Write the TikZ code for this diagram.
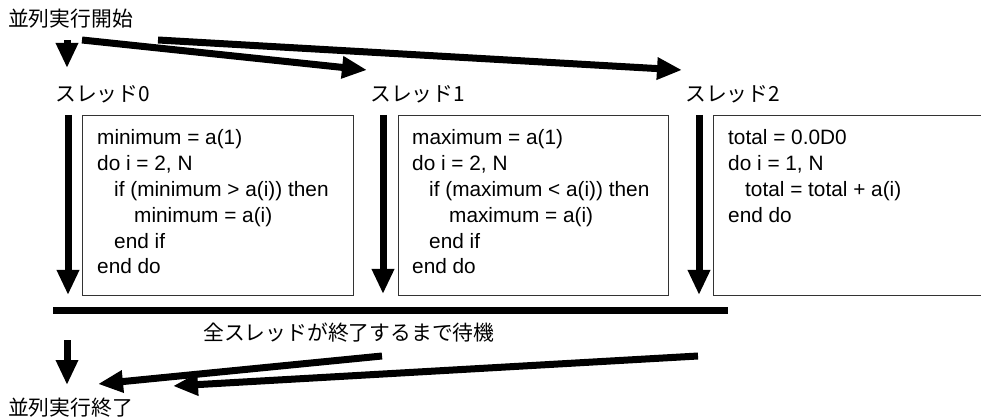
\documentclass[tikz,border=0pt]{standalone}
\usepackage{fontspec}
\setmainfont{Liberation Sans}
\newfontfamily\jp{Noto Sans CJK JP}
\usetikzlibrary{arrows.meta}
\begin{document}
\begin{tikzpicture}[x=1pt,y=-1pt,
  fat/.style={line width=7pt, -{Triangle[length=25pt,width=21pt]}},
  lbl/.style={font=\jp\fontsize{20.8}{25}\selectfont, inner sep=0pt, anchor=base west},
  codebox/.style={draw=black!80, line width=1.2pt, anchor=north west, minimum height=180pt, inner sep=0pt},
  code/.style={font=\fontsize{20.8}{25.8}\selectfont, inner sep=0pt, anchor=base west},
  bar/.style={line width=7.5pt}
]
\clip (0,0) rectangle (981,419);
% labels
\node[lbl] (start) at (8,26.5) {並列実行開始};
\node[lbl] (th0) at (55,102) {スレッド0};
\node[lbl] (th1) at (370,102) {スレッド1};
\node[lbl] (th2) at (685,102) {スレッド2};
\node[lbl] (wait) at (203,340) {全スレッドが終了するまで待機};
\node[lbl] (end) at (8,415.5) {並列実行終了};
% boxes
\node[codebox, minimum width=271pt] (box0) at (82,115) {};
\node[codebox, minimum width=270pt] (box1) at (398,115) {};
\node[codebox, minimum width=330pt] (box2) at (713,115) {};
\node[code] (code0) at (97,145) {\parbox[t]{250pt}{minimum = a(1)\\
do i = 2, N\\
\hspace*{17pt}if (minimum > a(i)) then\\
\hspace*{37pt}minimum = a(i)\\
\hspace*{17pt}end if\\
end do}};
\node[code] (code1) at (412,145) {\parbox[t]{250pt}{maximum = a(1)\\
do i = 2, N\\
\hspace*{17pt}if (maximum < a(i)) then\\
\hspace*{37pt}maximum = a(i)\\
\hspace*{17pt}end if\\
end do}};
\node[code] (code2) at (728,145) {\parbox[t]{240pt}{total = 0.0D0\\
do i = 1, N\\
\hspace*{17pt}total = total + a(i)\\
end do}};
% coordinates
\coordinate (s0a) at (67,40);   \coordinate (s0b) at (67,68);
\coordinate (sAa) at (82,40);   \coordinate (sAb) at (367,70);
\coordinate (sBa) at (158,40);  \coordinate (sBb) at (682,70);
\coordinate (t0a) at (68,115);  \coordinate (t0b) at (68,295);
\coordinate (t1a) at (383,115); \coordinate (t1b) at (383,294);
\coordinate (t2a) at (699,115); \coordinate (t2b) at (699,295);
\coordinate (barL) at (53,310.5); \coordinate (barR) at (728,310.5);
\coordinate (e0a) at (67,340);  \coordinate (e0b) at (67,385);
\coordinate (eCa) at (382,356); \coordinate (eCb) at (98,384);
\coordinate (eDa) at (698,356); \coordinate (eDb) at (173,386);
% arrows
\draw[fat] (s0a) -- (s0b);
\draw[fat] (sAa) -- (sAb);
\draw[fat] (sBa) -- (sBb);
\draw[fat] (t0a) -- (t0b);
\draw[fat] (t1a) -- (t1b);
\draw[fat] (t2a) -- (t2b);
\draw[bar] (barL) -- (barR);
\draw[fat] (e0a) -- (e0b);
\draw[fat] (eCa) -- (eCb);
\draw[fat] (eDa) -- (eDb);
\end{tikzpicture}
\end{document}
